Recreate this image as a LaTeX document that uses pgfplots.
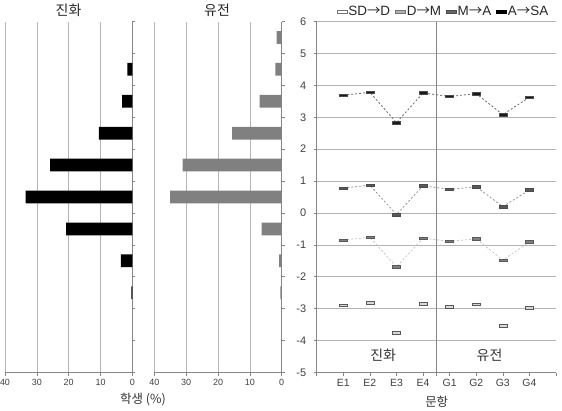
\documentclass[border=0pt]{standalone}
\usepackage{fontspec}
\setmainfont{Liberation Sans}
\newfontfamily\kr{Noto Sans CJK KR}
\usepackage{pgfplots}
\pgfplotsset{compat=1.18}
\definecolor{axgray}{HTML}{868686}
\definecolor{gridc}{HTML}{B4B4B4}
\definecolor{tickc}{HTML}{404040}
\pgfdeclareplotmark{hbar}{\pgfpathrectangle{\pgfqpoint{-4bp}{-1.25bp}}{\pgfqpoint{8bp}{2.5bp}}\pgfusepathqfillstroke}
\pgfplotsset{
  leg/.style 2 args={legend image code/.code={\draw[fill=#1,draw=#2,line width=0.6bp] (0bp,-1.6bp) rectangle (10bp,1.6bp);}},
  barpanel/.style={anchor=south west, scale only axis, width=127.4bp, height=351bp,
    xmin=-40, xmax=0, ymin=-5, ymax=6,
    axis x line*=bottom, axis y line*=right,
    xtick={-40,-30,-20,-10,0}, xticklabels={40,30,20,10,0},
    ytick={-5,...,6}, yticklabels={},
    xmajorgrids, grid style={draw=gridc, line width=0.6bp},
    tick align=outside, major tick length=3bp,
    axis line style={draw=axgray, line width=0.6bp, -},
    tick style={draw=axgray, line width=0.6bp},
    /pgf/number format/assume math mode=true,
    xticklabel style={font=\fontsize{9}{9}\selectfont, text=tickc},
    xbar, bar width=0.4}
}
\begin{document}
\begin{tikzpicture}[x=1bp,y=1bp]
\path[use as bounding box] (0,0) rectangle (562,410);
% Panel 1
\begin{axis}[barpanel, at={(5bp,37.5bp)}]
\addplot[fill=black, draw=none] coordinates {(-1.6,4.5) (-3.2,3.5) (-10.5,2.5) (-25.8,1.5) (-33.5,0.5) (-20.8,-0.5) (-3.6,-1.5) (-0.3,-2.5)};
\end{axis}
% Panel 2
\begin{axis}[barpanel, at={(154.3bp,37.5bp)}]
\addplot[fill=black!50, draw=none] coordinates {(-1.6,5.5) (-2.0,4.5) (-6.9,3.5) (-15.6,2.5) (-31.1,1.5) (-35.0,0.5) (-6.3,-0.5) (-0.8,-1.5) (-0.4,-2.5)};
\end{axis}
% Panel 3
\begin{axis}[at={(316.7bp,37.5bp)}, anchor=south west, scale only axis, width=239.3bp, height=351bp,
  xmin=0, xmax=9, ymin=-5, ymax=6,
  axis x line*=bottom, axis y line*=left,
  xtick={0,...,9}, xticklabels={,E1,E2,E3,E4,G1,G2,G3,G4,},
  ytick={-5,...,6},
  ymajorgrids, grid style={draw=gridc, line width=0.6bp},
  extra x ticks={4.5}, extra x tick labels={},
  extra x tick style={xmajorgrids=true, major grid style={draw=axgray, line width=0.6bp}},
  tick align=outside, major tick length=3bp,
  axis line style={draw=axgray, line width=0.6bp, -},
  tick style={draw=axgray, line width=0.6bp},
  /pgf/number format/assume math mode=true,
  xticklabel style={font=\fontsize{10.5}{10.5}\selectfont, text=tickc},
  yticklabel style={font=\fontsize{11}{11}\selectfont, text=tickc, xshift=-4bp},
  legend columns=4,
  legend style={at={(0.53,1.027)}, anchor=center, draw=none, fill=none,
    font=\fontsize{13.5}{13.5}\selectfont, text=black!85,
    /tikz/every even column/.append style={column sep=3bp},
    /tikz/every odd column/.append style={column sep=-1bp},
    inner sep=0pt},
  legend cell align=left,
]
\addplot[forget plot, draw=none, mark=hbar, mark options={solid, fill=black!15, draw=black!65, line width=0.6bp}] coordinates {(1,-2.90) (2,-2.82) (3,-3.76) (4,-2.84) (5,-2.94) (6,-2.86) (7,-3.53) (8,-2.98)};
\addplot[forget plot, draw=black!22, line width=0.8bp, dash pattern=on 2bp off 2bp, mark=hbar, mark options={solid, fill=black!50, draw=black!65, line width=0.6bp}] coordinates {(1,-0.85) (2,-0.76) (3,-1.69) (4,-0.79) (5,-0.89) (6,-0.81) (7,-1.48) (8,-0.91)};
\addplot[forget plot, draw=black!42, line width=0.8bp, dash pattern=on 2bp off 2bp, mark=hbar, mark options={solid, fill=black!65, draw=black!70, line width=0.6bp}] coordinates {(1,0.78) (2,0.87) (3,-0.05) (4,0.85) (5,0.74) (6,0.82) (7,0.20) (8,0.72)};
\addplot[forget plot, draw=black!58, line width=0.8bp, dash pattern=on 2bp off 2bp, mark=hbar, mark options={solid, fill=black!90, draw=black!70, line width=0.6bp}] coordinates {(1,3.69) (2,3.78) (3,2.83) (4,3.76) (5,3.65) (6,3.74) (7,3.08) (8,3.63)};
\addlegendimage{leg={white}{black!55}}
\addlegendentry{SD{\kr →}D}
\addlegendimage{leg={black!30}{black!55}}
\addlegendentry{D{\kr →}M}
\addlegendimage{leg={black!60}{black!70}}
\addlegendentry{M{\kr →}A}
\addlegendimage{leg={black}{black}}
\addlegendentry{A{\kr →}SA}
\node[font=\kr\fontsize{14}{14}\selectfont, text=black!80] at (axis cs:2.5,-4.45) {진화};
\node[font=\kr\fontsize{14}{14}\selectfont, text=black!80] at (axis cs:6.5,-4.45) {유전};
\end{axis}
\node[font=\kr\fontsize{14}{14}\selectfont, text=black!85] at (68.5,400) {진화};
\node[font=\kr\fontsize{14}{14}\selectfont, text=black!85] at (217,400) {유전};
\node[font=\kr\fontsize{12.5}{12.5}\selectfont, text=black!80] at (143,10) {학생 (\%)};
\node[font=\kr\fontsize{12.5}{12.5}\selectfont, text=black!80] at (436.7,8.5) {문항};
\end{tikzpicture}
\end{document}
